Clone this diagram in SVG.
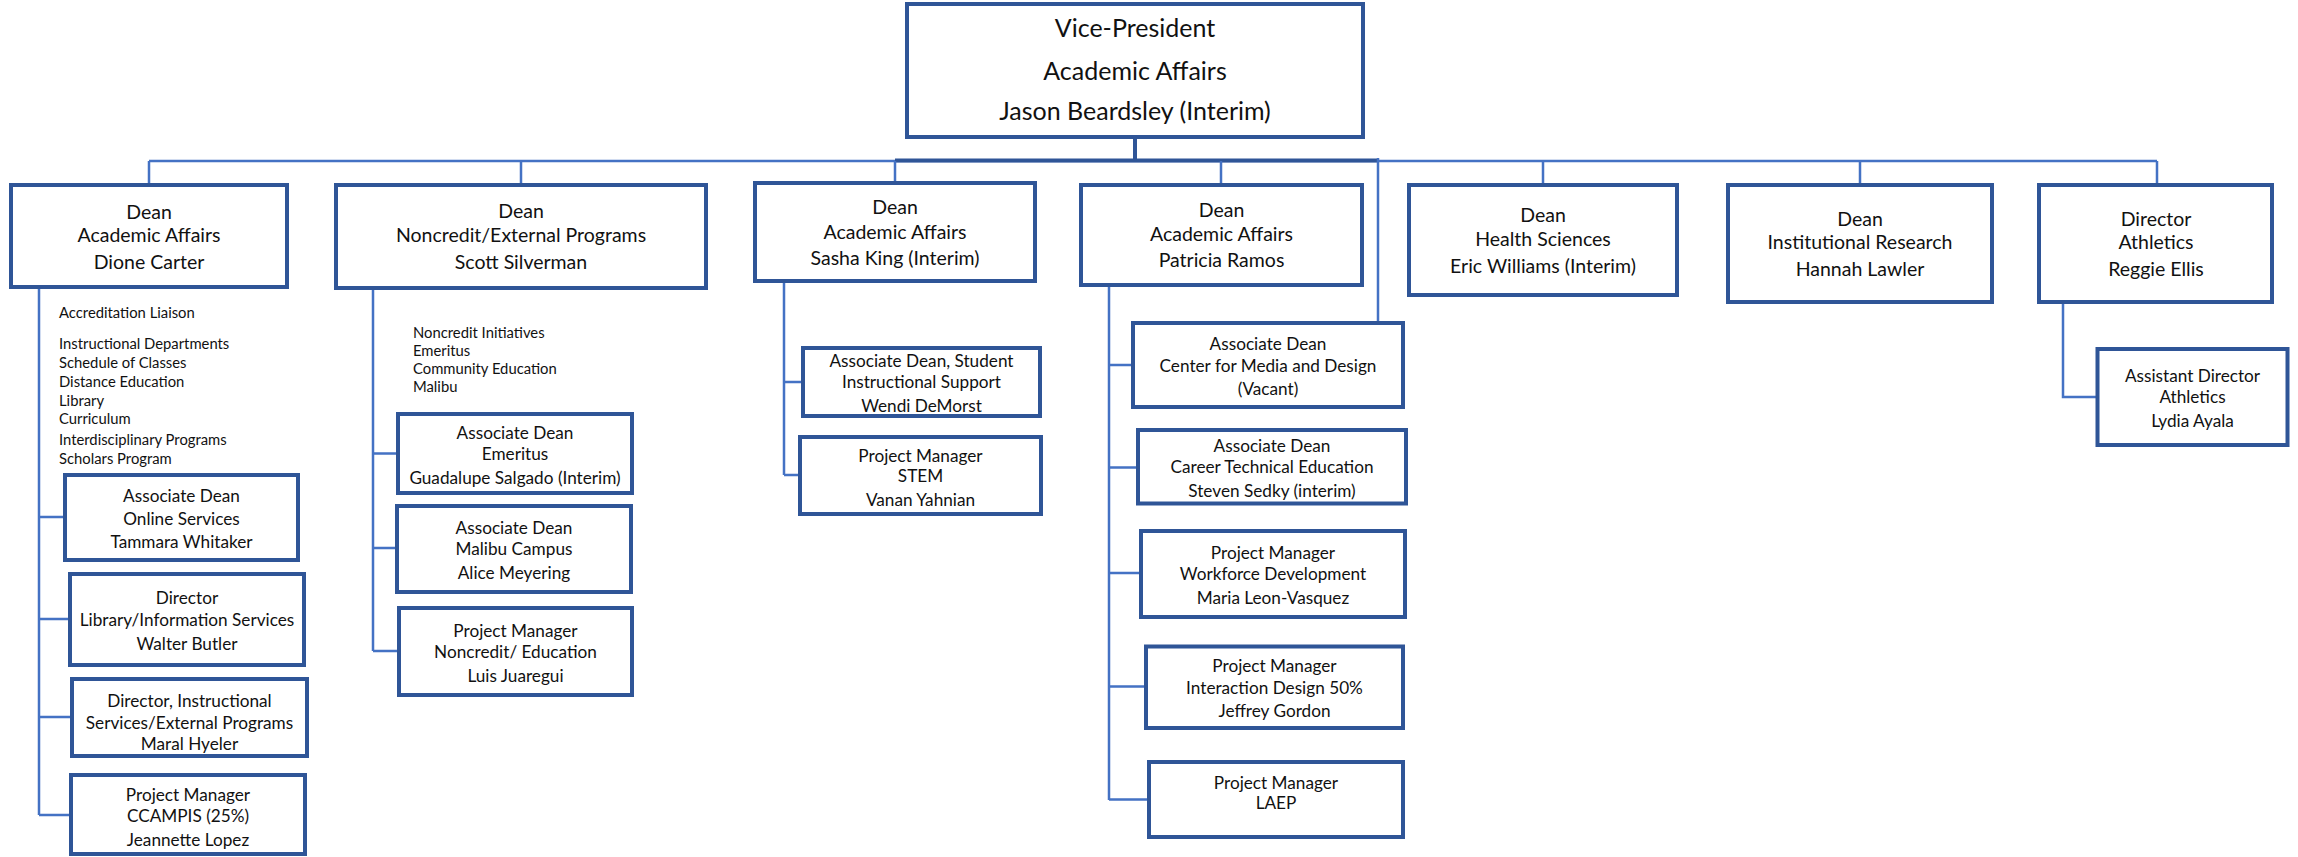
<svg xmlns="http://www.w3.org/2000/svg" width="2298" height="857" viewBox="0 0 2298 857">
<style>
.box{fill:#fff;stroke:#2F5597;stroke-width:4}
.conn{stroke:#4472C4;stroke-width:2.5;fill:none}
.thick{stroke:#2F5597;stroke-width:4;fill:none}
text{font-family:Lato,"Open Sans","Liberation Sans",sans-serif;fill:#111;text-anchor:middle}
.t1{font-size:25px}
.t2{font-size:19.5px}
.t3{font-size:17.2px}
.t4{font-size:14.8px;text-anchor:start}
</style>
<rect width="2298" height="857" fill="#fff"/>
<g id="connectors">
<path class="conn" d="M149 161H2157"/>
<path class="thick" d="M895 160.5H1378"/>
<path class="thick" d="M1135 137V161"/>
<path class="conn" d="M149 161V185M521 161V185M895 161V183M1221 161V185M1378 158V323M1543 161V185M1860 161V184M2157 161V184"/>
<path class="conn" d="M39 287V815M39 517H65M39 619H70M39 717H72M39 815H71"/>
<path class="conn" d="M373 288V651M373 453.5H398M373 548H397M373 651H399"/>
<path class="conn" d="M784 281V475M784 382H803M784 475H800"/>
<path class="conn" d="M1109 285V800M1109 365H1133M1109 467.5H1138M1109 573H1141M1109 686.5H1146M1109 799.5H1149"/>
<path class="conn" d="M2063 302V397H2097"/>
</g>
<g id="vp">
<rect class="box" x="907" y="4" width="456" height="133"/>
<text class="t1" x="1135" y="37">Vice-President</text>
<text class="t1" x="1135" y="80">Academic Affairs</text>
<text class="t1" x="1135" y="120">Jason Beardsley (Interim)</text>
</g>
<g id="dean-carter">
<rect class="box" x="11" y="185" width="276" height="102"/>
<text class="t2" x="149" y="219">Dean</text>
<text class="t2" x="149" y="242">Academic Affairs</text>
<text class="t2" x="149" y="269">Dione Carter</text>
</g>
<g id="carter-list">
<text class="t4" x="59" y="318">Accreditation Liaison</text>
<text class="t4" x="59" y="349">Instructional Departments</text>
<text class="t4" x="59" y="368">Schedule of Classes</text>
<text class="t4" x="59" y="387">Distance Education</text>
<text class="t4" x="59" y="406">Library</text>
<text class="t4" x="59" y="424">Curriculum</text>
<text class="t4" x="59" y="445">Interdisciplinary Programs</text>
<text class="t4" x="59" y="464">Scholars Program</text>
</g>
<g id="dean-silverman">
<rect class="box" x="336" y="185" width="370" height="103"/>
<text class="t2" x="521" y="218">Dean</text>
<text class="t2" x="521" y="242">Noncredit/External Programs</text>
<text class="t2" x="521" y="269">Scott Silverman</text>
</g>
<g id="silverman-list">
<text class="t4" x="413" y="338">Noncredit Initiatives</text>
<text class="t4" x="413" y="356">Emeritus</text>
<text class="t4" x="413" y="374">Community Education</text>
<text class="t4" x="413" y="392">Malibu</text>
</g>
<g id="dean-king">
<rect class="box" x="755" y="183" width="280" height="98"/>
<text class="t2" x="895" y="214">Dean</text>
<text class="t2" x="895" y="239">Academic Affairs</text>
<text class="t2" x="895" y="265">Sasha King (Interim)</text>
</g>
<g id="dean-ramos">
<rect class="box" x="1081" y="185" width="281" height="100"/>
<text class="t2" x="1221.5" y="217">Dean</text>
<text class="t2" x="1221.5" y="241">Academic Affairs</text>
<text class="t2" x="1221.5" y="267">Patricia Ramos</text>
</g>
<g id="dean-williams">
<rect class="box" x="1409" y="185" width="268" height="110"/>
<text class="t2" x="1543" y="222">Dean</text>
<text class="t2" x="1543" y="246">Health Sciences</text>
<text class="t2" x="1543" y="273">Eric Williams (Interim)</text>
</g>
<g id="dean-lawler">
<rect class="box" x="1728" y="185" width="264" height="117"/>
<text class="t2" x="1860" y="226">Dean</text>
<text class="t2" x="1860" y="249">Institutional Research</text>
<text class="t2" x="1860" y="276">Hannah Lawler</text>
</g>
<g id="dir-ellis">
<rect class="box" x="2039" y="185" width="233" height="117"/>
<text class="t2" x="2156" y="226">Director</text>
<text class="t2" x="2156" y="249">Athletics</text>
<text class="t2" x="2156" y="276">Reggie Ellis</text>
</g>
<g id="ad-whitaker">
<rect class="box" x="65" y="475" width="233" height="85"/>
<text class="t3" x="181.5" y="502">Associate Dean</text>
<text class="t3" x="181.5" y="524.5">Online Services</text>
<text class="t3" x="181.5" y="548">Tammara Whitaker</text>
</g>
<g id="dir-butler">
<rect class="box" x="70" y="574" width="234" height="91"/>
<text class="t3" x="187" y="604">Director</text>
<text class="t3" x="187" y="626">Library/Information Services</text>
<text class="t3" x="187" y="649.5">Walter Butler</text>
</g>
<g id="dir-hyeler">
<rect class="box" x="72" y="679" width="235" height="77"/>
<text class="t3" x="189.5" y="706.5">Director, Instructional</text>
<text class="t3" x="189.5" y="728.5">Services/External Programs</text>
<text class="t3" x="189.5" y="750">Maral Hyeler</text>
</g>
<g id="pm-lopez">
<rect class="box" x="71" y="775" width="234" height="79"/>
<text class="t3" x="188" y="801">Project Manager</text>
<text class="t3" x="188" y="822">CCAMPIS (25%)</text>
<text class="t3" x="188" y="846">Jeannette Lopez</text>
</g>
<g id="ad-salgado">
<rect class="box" x="398" y="414" width="234" height="79"/>
<text class="t3" x="515" y="439">Associate Dean</text>
<text class="t3" x="515" y="460">Emeritus</text>
<text class="t3" x="515" y="484">Guadalupe Salgado (Interim)</text>
</g>
<g id="ad-meyering">
<rect class="box" x="397" y="506" width="234" height="86"/>
<text class="t3" x="514" y="534">Associate Dean</text>
<text class="t3" x="514" y="555">Malibu Campus</text>
<text class="t3" x="514" y="579">Alice Meyering</text>
</g>
<g id="pm-juaregui">
<rect class="box" x="399" y="608" width="233" height="87"/>
<text class="t3" x="515.5" y="637">Project Manager</text>
<text class="t3" x="515.5" y="658">Noncredit/ Education</text>
<text class="t3" x="515.5" y="681.5">Luis Juaregui</text>
</g>
<g id="ad-demorst">
<rect class="box" x="803" y="348" width="237" height="68"/>
<text class="t3" x="921.5" y="367">Associate Dean, Student</text>
<text class="t3" x="921.5" y="388">Instructional Support</text>
<text class="t3" x="921.5" y="412">Wendi DeMorst</text>
</g>
<g id="pm-yahnian">
<rect class="box" x="800" y="437" width="241" height="77"/>
<text class="t3" x="920.5" y="462">Project Manager</text>
<text class="t3" x="920.5" y="482">STEM</text>
<text class="t3" x="920.5" y="506">Vanan Yahnian</text>
</g>
<g id="ad-media">
<rect class="box" x="1133" y="323" width="270" height="84"/>
<text class="t3" x="1268" y="350">Associate Dean</text>
<text class="t3" x="1268" y="371.5">Center for Media and Design</text>
<text class="t3" x="1268" y="395">(Vacant)</text>
</g>
<g id="ad-sedky">
<rect class="box" x="1138" y="430" width="268" height="73.5"/>
<text class="t3" x="1272" y="452">Associate Dean</text>
<text class="t3" x="1272" y="473">Career Technical Education</text>
<text class="t3" x="1272" y="497">Steven Sedky (interim)</text>
</g>
<g id="pm-leon-vasquez">
<rect class="box" x="1141" y="531" width="264" height="86"/>
<text class="t3" x="1273" y="559">Project Manager</text>
<text class="t3" x="1273" y="580">Workforce Development</text>
<text class="t3" x="1273" y="603.5">Maria Leon-Vasquez</text>
</g>
<g id="pm-gordon">
<rect class="box" x="1146" y="646.5" width="257" height="81.5"/>
<text class="t3" x="1274.5" y="672">Project Manager</text>
<text class="t3" x="1274.5" y="693.5">Interaction Design 50%</text>
<text class="t3" x="1274.5" y="717">Jeffrey Gordon</text>
</g>
<g id="pm-laep">
<rect class="box" x="1149" y="762" width="254" height="75"/>
<text class="t3" x="1276" y="789">Project Manager</text>
<text class="t3" x="1276" y="809">LAEP</text>
</g>
<g id="asst-ayala">
<rect class="box" x="2097.5" y="349" width="190" height="96"/>
<text class="t3" x="2192.5" y="382">Assistant Director</text>
<text class="t3" x="2192.5" y="403">Athletics</text>
<text class="t3" x="2192.5" y="427">Lydia Ayala</text>
</g>
</svg>
